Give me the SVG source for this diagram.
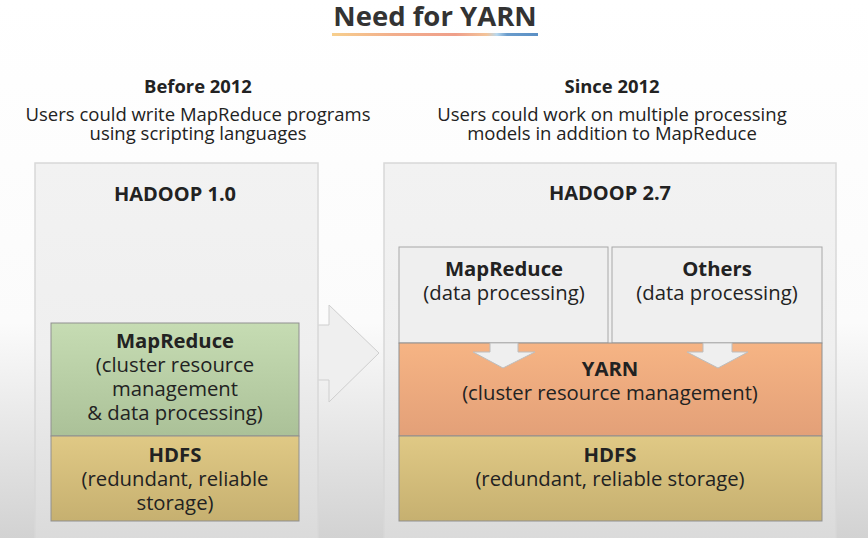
<svg xmlns="http://www.w3.org/2000/svg" width="868" height="538" viewBox="0 0 868 538">
<defs>
<linearGradient id="bg" x1="0" y1="0" x2="0" y2="1">
<stop offset="0" stop-color="#ffffff"/><stop offset="0.6" stop-color="#fbfbfb"/><stop offset="1" stop-color="#d2d2d2"/>
</linearGradient>
<linearGradient id="panel" x1="0" y1="0" x2="0" y2="1">
<stop offset="0" stop-color="#f2f2f2"/><stop offset="0.5" stop-color="#efefef"/><stop offset="1" stop-color="#dadada"/>
</linearGradient>
<linearGradient id="green" x1="0" y1="0" x2="0" y2="1">
<stop offset="0" stop-color="#c6dcb3"/><stop offset="1" stop-color="#abc198"/>
</linearGradient>
<linearGradient id="hdfs" x1="0" y1="0" x2="0" y2="1">
<stop offset="0" stop-color="#e0c985"/><stop offset="1" stop-color="#c6b070"/>
</linearGradient>
<linearGradient id="yarn" x1="0" y1="0" x2="0" y2="1">
<stop offset="0" stop-color="#f6b484"/><stop offset="1" stop-color="#e3a078"/>
</linearGradient>
<linearGradient id="uline" x1="0" y1="0" x2="1" y2="0">
<stop offset="0" stop-color="#f7cf8d"/><stop offset="0.3" stop-color="#f2ae8c"/><stop offset="0.6" stop-color="#ef9f8a"/><stop offset="0.75" stop-color="#f3c49a"/><stop offset="0.8" stop-color="#b8d8ee"/><stop offset="0.85" stop-color="#6a9ccc"/><stop offset="1" stop-color="#5a8fc4"/>
</linearGradient>
</defs>
<style>
text{font-family:"Open Sans","Noto Sans","DejaVu Sans",sans-serif;fill:#222;text-anchor:middle}
.b{font-weight:bold}
.h{font-size:18.4px}
.hd{font-size:20px}
.s{font-size:18.5px}
.l{font-size:20.3px}
.panel{fill:url(#panel);stroke:#d8d8d8;stroke-width:1.5}
.box{stroke:#8f8f8f;stroke-width:1}
.gray{fill:#efefef;stroke:#a8a8a8;stroke-width:1}
.arr{fill:#efefef;stroke:#cfcfcf;stroke-width:1}
</style>
<rect width="868" height="538" fill="url(#bg)"/>
<g id="title">
<text x="435" y="26" class="b" style="font-size:27.5px;fill:#333">Need for YARN</text>
<rect x="332" y="33" width="206" height="3" fill="url(#uline)"/>
</g>
<g id="before">
<text x="198" y="93" class="b h">Before 2012</text>
<text x="198" y="121" class="s">Users could write MapReduce programs</text>
<text x="198" y="140" class="s">using scripting languages</text>
</g>
<g id="since">
<text x="612" y="93" class="b h">Since 2012</text>
<text x="612" y="121" class="s">Users could work on multiple processing</text>
<text x="612" y="140" class="s">models in addition to MapReduce</text>
</g>
<g id="transition-arrow">
<polygon class="arr" points="310,325 329,325 329,305 379,353 329,402 329,380 310,380"/>
</g>
<g id="hadoop1">
<rect class="panel" x="35" y="163" width="283" height="380"/>
<text x="175" y="201" class="b hd">HADOOP 1.0</text>
</g>
<g id="hadoop2">
<rect class="panel" x="384" y="163" width="452" height="380"/>
<text x="610" y="200" class="b hd">HADOOP 2.7</text>
</g>
<g id="mapreduce1">
<rect class="box" x="51" y="323" width="248" height="113" fill="url(#green)"/>
<text x="175" y="348" class="b l">MapReduce</text>
<text x="175" y="372" class="l">(cluster resource</text>
<text x="175" y="396" class="l">management</text>
<text x="175" y="420" class="l">&amp; data processing)</text>
</g>
<g id="hdfs1">
<rect class="box" x="51" y="436" width="248" height="85" fill="url(#hdfs)"/>
<text x="175" y="462" class="b l">HDFS</text>
<text x="175" y="486" class="l">(redundant, reliable</text>
<text x="175" y="510" class="l">storage)</text>
</g>
<g id="mapreduce2">
<rect class="gray" x="399" y="247" width="209" height="96"/>
<text x="504" y="276" class="b l">MapReduce</text>
<text x="504" y="300" class="l">(data processing)</text>
</g>
<g id="others">
<rect class="gray" x="612" y="247" width="210" height="96"/>
<text x="717" y="276" class="b l">Others</text>
<text x="717" y="300" class="l">(data processing)</text>
</g>
<g id="yarn">
<rect class="box" x="399" y="343" width="423" height="93" fill="url(#yarn)"/>
<text x="610" y="376" class="b l">YARN</text>
<text x="610" y="400" class="l">(cluster resource management)</text>
</g>
<g id="hdfs2">
<rect class="box" x="399" y="436" width="423" height="85" fill="url(#hdfs)"/>
<text x="610" y="462" class="b l">HDFS</text>
<text x="610" y="486" class="l">(redundant, reliable storage)</text>
</g>
<g id="connectors">
<polygon points="490,343 518,343 518,352 535,352 503,368 473,352 490,352" fill="#efefef" stroke="#bdbdbd" stroke-width="1"/>
<polygon points="703,343 732,343 732,352 748,352 718,368 687,352 703,352" fill="#efefef" stroke="#bdbdbd" stroke-width="1"/>
</g>
</svg>
